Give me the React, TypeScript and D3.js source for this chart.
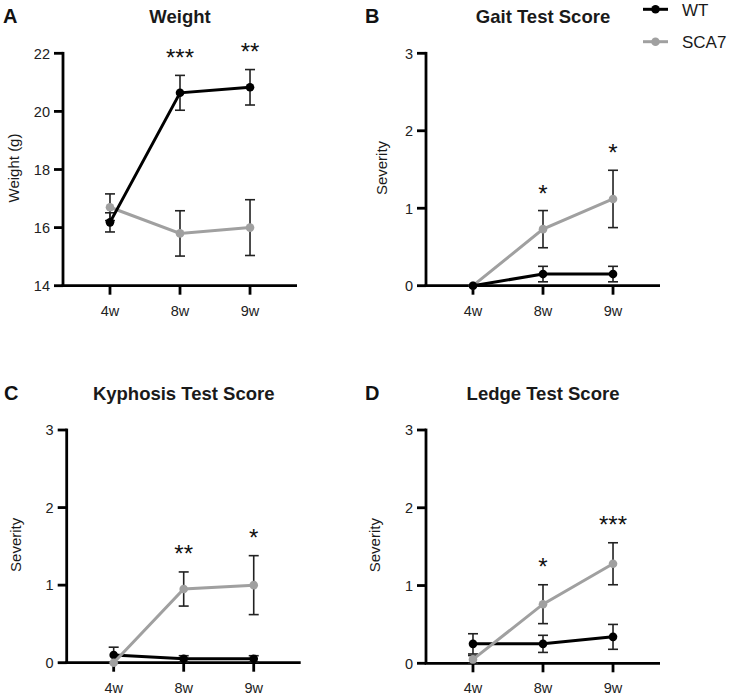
import React from "react";
import * as d3 from "d3";

const weeks = ["4w", "8w", "9w"];

const weightWT = [16.18, 20.64, 20.83];
const weightWTErr = [0.33, 0.6, 0.61];
const weightSCA7 = [16.7, 15.8, 16.0];
const weightSCA7Err = [0.46, 0.78, 0.96];
const weightStars = ["", "***", "**"];
const weightStarY = [0, 22.05, 22.26];
const weightTicks = [14, 16, 18, 20, 22];

const gaitWT = [0, 0.15, 0.15];
const gaitWTErr = [0, 0.1, 0.1];
const gaitSCA7 = [0, 0.73, 1.12];
const gaitSCA7Err = [0, 0.24, 0.37];
const gaitStars = ["", "*", "*"];
const gaitStarY = [0, 1.26, 1.79];

const kyphWT = [0.1, 0.05, 0.05];
const kyphWTErr = [0.1, 0.04, 0.04];
const kyphSCA7 = [0, 0.95, 1.0];
const kyphSCA7Err = [0, 0.22, 0.38];
const kyphStars = ["", "**", "*"];
const kyphStarY = [0, 1.47, 1.68];

const ledgeWT = [0.25, 0.25, 0.34];
const ledgeWTErr = [0.13, 0.11, 0.16];
const ledgeSCA7 = [0.05, 0.76, 1.28];
const ledgeSCA7Err = [0.05, 0.25, 0.27];
const ledgeStars = ["", "*", "***"];
const ledgeStarY = [0, 1.31, 1.855];

const severityTicks = [0, 1, 2, 3];

const FONT = "'Liberation Sans', Arial, Helvetica, sans-serif";
const WT_COLOR = "#000000";
const SCA7_COLOR = "#a0a0a0";
const ERR_COLOR = "#222222";

type PanelProps = {
  letter: string;
  title: string;
  yLabel: string;
  domain: [number, number];
  ticks: number[];
  wt: number[];
  wtErr: number[];
  sca: number[];
  scaErr: number[];
  stars: string[];
  starY: number[];
  x0: number;
  yTop: number;
  yBottom: number;
  letterX: number;
  yLabelX: number;
  wtOnTop: boolean;
};

function Series({ vals, errs, color, x, y }: any) {
  const line = d3
    .line<number>()
    .x((_, i) => x(weeks[i]))
    .y((d) => y(d));
  return (
    <g>
      {vals.map((v: number, i: number) => {
        const e = errs[i];
        if (!e) return null;
        const cx = x(weeks[i]);
        return (
          <g key={"e" + i} stroke={ERR_COLOR} strokeWidth={1.6}>
            <line x1={cx} x2={cx} y1={y(v - e)} y2={y(v + e)} />
            <line x1={cx - 5} x2={cx + 5} y1={y(v + e)} y2={y(v + e)} />
            <line x1={cx - 5} x2={cx + 5} y1={y(v - e)} y2={y(v - e)} />
          </g>
        );
      })}
      <path d={line(vals) || ""} fill="none" stroke={color} strokeWidth={3} />
      {vals.map((v: number, i: number) => (
        <circle key={"c" + i} cx={x(weeks[i])} cy={y(v)} r={4.3} fill={color} />
      ))}
    </g>
  );
}

function Panel(p: PanelProps) {
  const width = 234;
  const x = d3
    .scalePoint<string>()
    .domain(weeks)
    .range([p.x0, p.x0 + width])
    .padding(0.671);
  const y = d3.scaleLinear().domain(p.domain).range([p.yBottom, p.yTop]);
  const midX = (x(weeks[0])! + x(weeks[2])!) / 2;
  const titleY = p.yTop - 30;
  const wtS = <Series key="wt" vals={p.wt} errs={p.wtErr} color={WT_COLOR} x={x} y={y} />;
  const scaS = <Series key="sca" vals={p.sca} errs={p.scaErr} color={SCA7_COLOR} x={x} y={y} />;
  return (
    <g fontFamily={FONT}>
      <text x={p.letterX} y={titleY} fontSize={20} fontWeight="bold" fill="#111">
        {p.letter}
      </text>
      <text x={midX} y={titleY} fontSize={18.5} fontWeight="bold" textAnchor="middle" fill="#1a1a1a">
        {p.title}
      </text>
      <text
        transform={`translate(${p.yLabelX},${(p.yTop + p.yBottom) / 2 - 1.5}) rotate(-90)`}
        fontSize={15}
        textAnchor="middle"
        fill="#1a1a1a"
      >
        {p.yLabel}
      </text>
      {/* y axis */}
      <line x1={p.x0} x2={p.x0} y1={y(p.domain[1]) - 1.4} y2={p.yBottom} stroke="#000" strokeWidth={2.8} />
      {p.ticks.map((t) => (
        <g key={t}>
          <line x1={p.x0 - 9} x2={p.x0} y1={y(t)} y2={y(t)} stroke="#000" strokeWidth={2.8} />
          <text x={p.x0 - 13} y={y(t) + 5.3} fontSize={14.5} textAnchor="end" fill="#222">
            {t}
          </text>
        </g>
      ))}
      {/* x axis */}
      <line x1={p.x0 - 1.4} x2={p.x0 + width} y1={p.yBottom} y2={p.yBottom} stroke="#000" strokeWidth={2.8} />
      {weeks.map((w) => (
        <g key={w}>
          <line x1={x(w)} x2={x(w)} y1={p.yBottom} y2={p.yBottom + 9} stroke="#000" strokeWidth={2.8} />
          <text x={x(w)} y={p.yBottom + 30} fontSize={14.5} textAnchor="middle" fill="#222">
            {w}
          </text>
        </g>
      ))}
      {p.wtOnTop ? [scaS, wtS] : [wtS, scaS]}
      {p.stars.map((s, i) =>
        s ? (
          <text key={"s" + i} x={x(weeks[i])} y={y(p.starY[i]) + 13.8} fontSize={24} textAnchor="middle" fill="#111">
            {s}
          </text>
        ) : null
      )}
    </g>
  );
}

export default function App() {
  return (
    <svg
      width={735}
      height={695}
      style={{ position: "absolute", left: 0, top: 0, background: "#fff" }}
    >
      <rect width={735} height={695} fill="#fff" />
      <Panel
        letter="A"
        title="Weight"
        yLabel="Weight (g)"
        domain={[14, 22]}
        ticks={weightTicks}
        wt={weightWT}
        wtErr={weightWTErr}
        sca={weightSCA7}
        scaErr={weightSCA7Err}
        stars={weightStars}
        starY={weightStarY}
        x0={63}
        yTop={53.3}
        yBottom={285.7}
        letterX={3}
        yLabelX={18.5}
        wtOnTop={true}
      />
      <Panel
        letter="B"
        title="Gait Test Score"
        yLabel="Severity"
        domain={[0, 3]}
        ticks={severityTicks}
        wt={gaitWT}
        wtErr={gaitWTErr}
        sca={gaitSCA7}
        scaErr={gaitSCA7Err}
        stars={gaitStars}
        starY={gaitStarY}
        x0={426}
        yTop={53.3}
        yBottom={285.7}
        letterX={365}
        yLabelX={386.5}
        wtOnTop={true}
      />
      <Panel
        letter="C"
        title="Kyphosis Test Score"
        yLabel="Severity"
        domain={[0, 3]}
        ticks={severityTicks}
        wt={kyphWT}
        wtErr={kyphWTErr}
        sca={kyphSCA7}
        scaErr={kyphSCA7Err}
        stars={kyphStars}
        starY={kyphStarY}
        x0={66.7}
        yTop={430}
        yBottom={662.7}
        letterX={4}
        yLabelX={21}
        wtOnTop={false}
      />
      <Panel
        letter="D"
        title="Ledge Test Score"
        yLabel="Severity"
        domain={[0, 3]}
        ticks={severityTicks}
        wt={ledgeWT}
        wtErr={ledgeWTErr}
        sca={ledgeSCA7}
        scaErr={ledgeSCA7Err}
        stars={ledgeStars}
        starY={ledgeStarY}
        x0={426}
        yTop={430}
        yBottom={663.3}
        letterX={365}
        yLabelX={380}
        wtOnTop={false}
      />
      {/* legend */}
      <g fontFamily={FONT}>
        <line x1={643} x2={668} y1={9.3} y2={9.3} stroke={WT_COLOR} strokeWidth={3} />
        <circle cx={655.5} cy={9.3} r={4.3} fill={WT_COLOR} />
        <text x={682} y={15.6} fontSize={17} fill="#1a1a1a">WT</text>
        <line x1={643} x2={668} y1={41.7} y2={41.7} stroke={SCA7_COLOR} strokeWidth={3} />
        <circle cx={655.5} cy={41.7} r={4.3} fill={SCA7_COLOR} />
        <text x={682} y={48} fontSize={17} fill="#1a1a1a">SCA7</text>
      </g>
    </svg>
  );
}
